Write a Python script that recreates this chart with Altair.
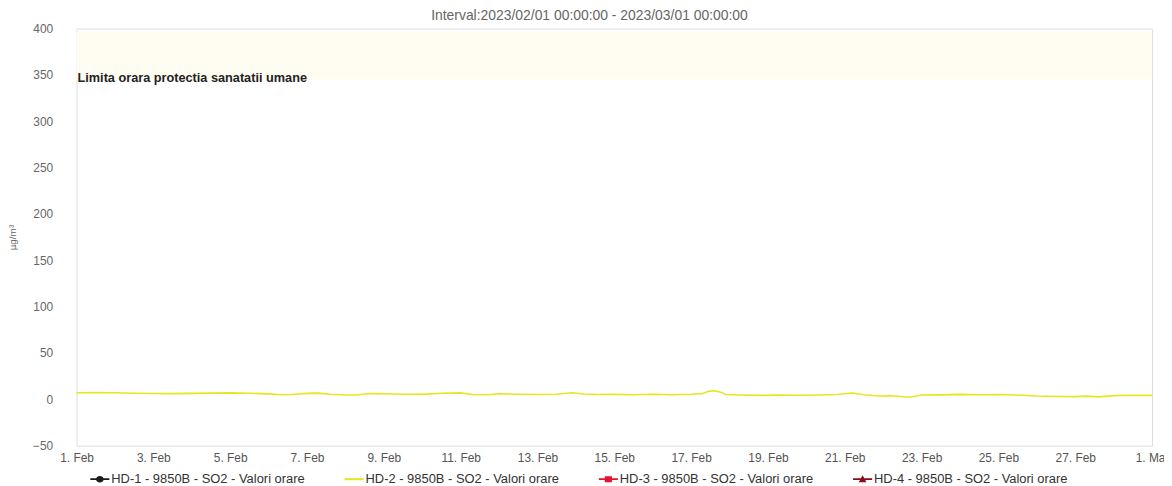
import altair as alt
import pandas as pd

# ---------------- data ----------------
series_names = [
    "HD-1 - 9850B - SO2 - Valori orare",
    "HD-2 - 9850B - SO2 - Valori orare",
    "HD-3 - 9850B - SO2 - Valori orare",
    "HD-4 - 9850B - SO2 - Valori orare",
    "HD-5 - 43i - SO2 - Valori orare",
]
series_colors = ["#1a1a1a", "#e6e61e", "#e8102e", "#8b0a1a", "#1c2f7a"]
legend_symbols = [
    "M-3.2,-0.3H3.2V0.3H-3.2Z M-1.3,0A1.3,1.1,0,1,1,1.3,0A1.3,1.1,0,1,1,-1.3,0Z",
    "M-3.2,-0.35H3.2V0.35H-3.2Z",
    "M-3.2,-0.3H3.2V0.3H-3.2Z M-1.2,-1H1.2V1H-1.2Z",
    "M-3.2,-0.3H3.2V0.3H-3.2Z M0,-1.3L1.3,1L-1.3,1Z",
    "M-3.2,-0.3H3.2V0.3H-3.2Z M-1.3,-1L1.3,-1L0,1.3Z",
]

# HD-2 hourly SO2 trace (day of February, value in ug/m3)
hd2_days = [1.0, 1.5, 2.0, 2.5, 3.0, 3.5, 4.0, 4.5, 5.0, 5.5, 6.0, 6.3, 6.6,
            7.0, 7.3, 7.6, 8.0, 8.3, 8.6, 9.0, 9.5, 10.0, 10.5, 11.0, 11.3,
            11.7, 12.0, 12.5, 13.0, 13.5, 13.9, 14.2, 14.6, 15.0, 15.5, 16.0,
            16.5, 17.0, 17.3, 17.45, 17.6, 17.75, 17.9, 18.3, 18.8, 19.3, 19.8,
            20.3, 20.8, 21.2, 21.5, 21.9, 22.2, 22.7, 23.0, 23.5, 24.0, 24.5,
            25.0, 25.5, 26.0, 26.5, 27.0, 27.3, 27.6, 28.0, 28.5, 29.0]
hd2_values = [7.0, 7.3, 7.1, 6.6, 6.3, 6.1, 6.4, 6.7, 6.9, 6.5, 5.9, 4.9, 5.2,
              6.4, 6.7, 5.4, 4.7, 4.6, 6.3, 6.0, 5.5, 5.3, 6.6, 6.9, 5.2,
              4.9, 6.0, 5.5, 5.2, 5.4, 7.0, 5.8, 5.1, 5.3, 5.0, 5.4,
              5.0, 5.5, 6.2, 8.6, 9.3, 8.0, 5.2, 4.6, 4.2, 4.5, 4.3,
              4.6, 5.2, 6.8, 5.0, 3.6, 3.8, 2.3, 4.6, 4.8, 5.3, 5.0,
              5.2, 4.7, 3.5, 3.1, 2.9, 3.4, 2.6, 4.0, 4.4, 4.2]

y_ticks = [-50, 0, 50, 100, 150, 200, 250, 300, 350, 400]
x_tick_dates = [(2, d) for d in range(1, 29, 2)] + [(3, 1)]
limit_value = 350
limit_label = "Limita orara protectia sanatatii umane"
band_low, band_high = 345, 396
title_text = "Interval:2023/02/01 00:00:00 - 2023/03/01 00:00:00"
y_title = "µg/m³"

FONT = "Liberation Sans"

start = pd.Timestamp("2023-02-01")
def to_ts(d):
    return (start + pd.to_timedelta(d - 1, unit="D")).strftime("%Y-%m-%dT%H:%M:%S")

line_df = pd.DataFrame({
    "time": [to_ts(d) for d in hd2_days],
    "value": hd2_values,
    "series": series_names[1],
})
band_df = pd.DataFrame({"t0": [to_ts(1)], "t1": [to_ts(29)], "lo": [band_low], "hi": [band_high]})
label_df = pd.DataFrame({"time": [to_ts(1)], "value": [limit_value], "label": [limit_label]})

x_domain = [alt.DateTime(year=2023, month=2, date=1), alt.DateTime(year=2023, month=3, date=1)]
x_values = [alt.DateTime(year=2023, month=m, date=d) for m, d in x_tick_dates]

x_scale = alt.Scale(domain=x_domain)
y_scale = alt.Scale(domain=[-50, 400], nice=False)

x_axis = alt.Axis(values=x_values, format="%-d. %b", grid=False, domain=False, ticks=False,
                  labelFont=FONT, labelFontSize=12, labelColor="#555", labelPadding=7,
                  labelFlush=False, labelOverlap=False, title=None)
y_axis = alt.Axis(values=y_ticks, grid=False, domain=False, ticks=False,
                  labelFont=FONT, labelFontSize=12, labelColor="#666", labelPadding=24,
                  title=y_title, titleFont=FONT, titleFontSize=10, titleColor="#666",
                  titleFontWeight="normal", titleX=-64, titleY=210, titleAngle=-90,
                  titleAlign="center", titleBaseline="middle")

band = alt.Chart(band_df).mark_rect(color="#fffdf1").encode(
    x=alt.X("t0:T", scale=x_scale, axis=x_axis),
    x2="t1:T",
    y=alt.Y("lo:Q", scale=y_scale, axis=y_axis),
    y2="hi:Q",
)

label = alt.Chart(label_df).mark_text(
    align="left", baseline="middle", dx=1, dy=3, font=FONT, fontSize=12.8,
    fontWeight="bold", color="#222"
).encode(
    x=alt.X("time:T", scale=x_scale),
    y=alt.Y("value:Q", scale=y_scale),
    text="label:N",
)

line = alt.Chart(line_df).mark_line(color=series_colors[1], strokeWidth=1.6).encode(
    x=alt.X("time:T", scale=x_scale),
    y=alt.Y("value:Q", scale=y_scale),
)

legend = alt.Legend(
    title=None, orient="none", legendX=17, legendY=447, direction="horizontal",
    columns=4, symbolSize=36, labelFont=FONT, labelFontSize=13, labelColor="#333",
    labelOffset=5, columnPadding=39, rowPadding=-6, symbolStrokeWidth=0,
    gridAlign="each", symbolOpacity=1, labelLimit=400,
)
legend_layer = alt.Chart(line_df).mark_point(filled=True, size=36).transform_filter(
    "false"
).encode(
    x=alt.X("time:T", scale=x_scale),
    y=alt.Y("value:Q", scale=y_scale),
    color=alt.Color("series:N", scale=alt.Scale(domain=series_names, range=series_colors), legend=legend),
    shape=alt.Shape("series:N", scale=alt.Scale(domain=series_names, range=legend_symbols), legend=legend),
)

chart = alt.layer(band, label, line, legend_layer).properties(
    width=1083,
    height=420,
    padding={"left": 69, "top": 19, "right": 12, "bottom": 47},
    autosize=alt.AutoSizeParams(type="none"),
    title=alt.TitleParams(title_text, font=FONT, fontSize=14, fontWeight="normal",
                          color="#666", offset=0, dx=-25, anchor="middle"),
).configure_view(strokeWidth=0).configure(background="white")

chart.save("out.html", embed_options={"renderer": "svg", "actions": False})
